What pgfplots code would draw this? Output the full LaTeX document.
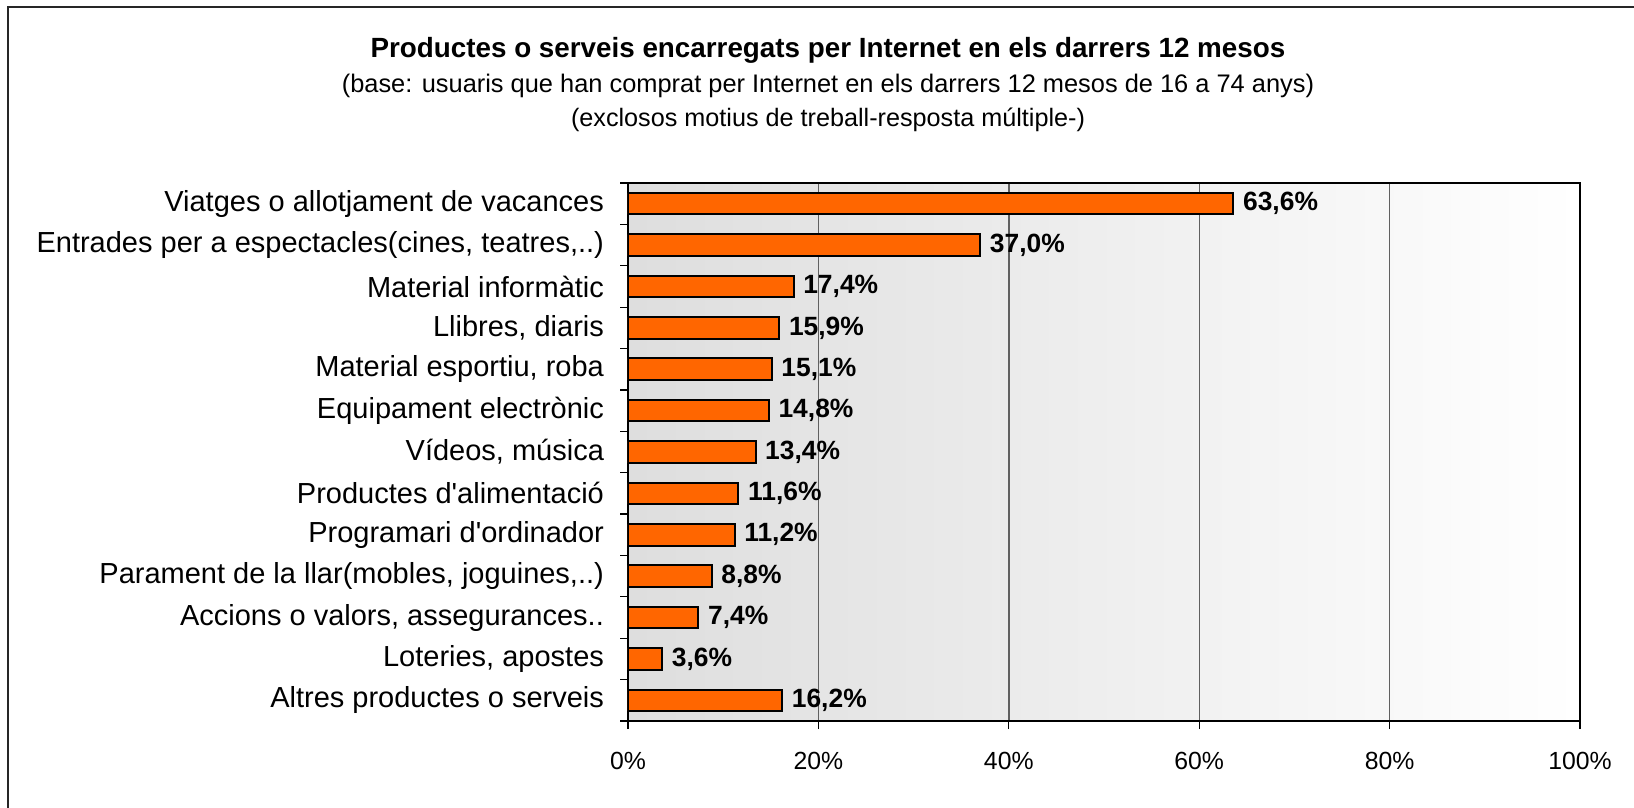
\documentclass[border=0pt]{standalone}
\usepackage{pgfplots}
\pgfplotsset{compat=1.18}
\usepackage{fontspec}
\setmainfont{Liberation Sans}
\definecolor{barorange}{HTML}{FF6600}
\definecolor{gridgray}{HTML}{606060}

\begin{document}
\begin{tikzpicture}
\path[use as bounding box] (0,0) rectangle (817pt,404pt);
% outer frame (only top and left visible)
\draw[line width=0.8pt, black!85] (4pt,0) -- (4pt,400.5pt) -- (817pt,400.5pt);

\node[font=\bfseries\fontsize{13.9}{16}\selectfont] at (414pt,379pt) {Productes o serveis encarregats per Internet en els darrers 12 mesos};
\node[font=\fontsize{12.7}{15}\selectfont] at (414pt,361pt) {(base: usuaris que han comprat per Internet en els darrers 12 mesos de 16 a 74 anys)};
\node[font=\fontsize{12.6}{15}\selectfont] at (414pt,344pt) {(exclosos motius de treball-resposta múltiple-)};

\begin{axis}[
  at={(314pt,43.5pt)}, anchor=south west,
  width=476pt, height=269pt, scale only axis,
  xbar, bar width=10.8pt,
  xmin=0, xmax=100,
  ymin=-0.5, ymax=12.5, y dir=reverse,
  xtick={0,20,...,100},
  xticklabels={0\%,20\%,40\%,60\%,80\%,100\%},
  ytick={-0.5,0.5,...,12.5},
  yticklabels={Viatges o allotjament de vacances,Entrades per a espectacles(cines{,} teatres{,}..),Material informàtic,{Llibres, diaris},{Material esportiu, roba},Equipament electrònic,{Vídeos, música},Productes d\textquotesingle alimentació,Programari d\textquotesingle ordinador,Parament de la llar(mobles{,} joguines{,}..),{Accions o valors, assegurances..},{Loteries, apostes},Altres productes o serveis,{}},
  yticklabel style={yshift=-10.35pt, xshift=-4.5pt, font=\fontsize{14.5}{16}\selectfont},
  xticklabel style={yshift=-8pt, font=\fontsize{12.4}{14}\selectfont},
  tick align=outside,
  xtick pos=bottom, ytick pos=left,
  major tick length=4pt,
  tick style={black, line width=0.6pt},
  xmajorgrids=true,
  major grid style={gridgray, line width=0.7pt},
  axis line style={black, line width=0.8pt},
  axis background/.style={left color=black!13, right color=white},
  /pgf/number format/assume math mode=true,
  nodes near coords={\pgfmathprintnumber[fixed,fixed zerofill,precision=1,use comma]{\pgfplotspointmeta}\%},
  nodes near coords style={font=\bfseries\fontsize{13.2}{15}\selectfont, black, anchor=west, xshift=1pt},
  point meta=x,
]
\addplot[fill=barorange, draw=black, line width=1pt] coordinates {
  (63.6,0) (37.0,1) (17.4,2) (15.9,3) (15.1,4) (14.8,5) (13.4,6)
  (11.6,7) (11.2,8) (8.8,9) (7.4,10) (3.6,11) (16.2,12)
};
\end{axis}
\end{tikzpicture}
\end{document}
